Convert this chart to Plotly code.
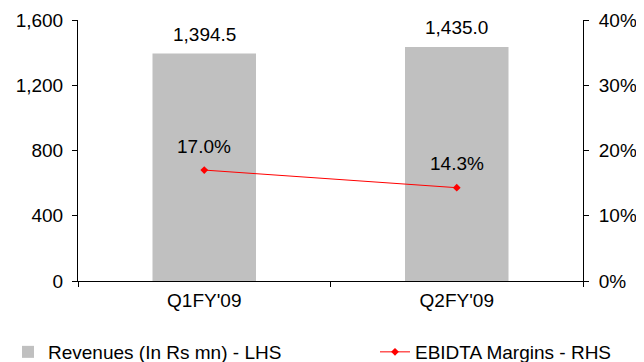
import plotly.graph_objects as go

categories = ["Q1FY'09", "Q2FY'09"]
revenues = [1394.5, 1435.0]
ebitda_margin = [17.0, 14.3]
left_ticks = [0, 400, 800, 1200, 1600]
right_ticks = [0, 10, 20, 30, 40]

FONT = "Liberation Sans, Arial, sans-serif"
FS = 19
# page body has an 8px margin; figure is sized to compensate
W, H = 636, 354

fig = go.Figure()
fig.add_trace(go.Bar(
    x=categories, y=revenues, name="Revenues (In Rs mn) - LHS",
    marker=dict(color="#c0c0c0", line=dict(width=0)), width=0.41, legend="legend",
))
fig.add_trace(go.Scatter(
    x=categories, y=ebitda_margin, name="EBIDTA Margins - RHS", yaxis="y2",
    mode="lines+markers", line=dict(color="#ff0000", width=1),
    marker=dict(color="#ff0000", size=6, symbol="diamond"), legend="legend2",
))

for c, v in zip(categories, revenues):
    fig.add_annotation(x=c, y=v, text=f"{v:,.1f}", showarrow=False,
                       yshift=19, font=dict(size=FS, color="#000", family=FONT))
for c, v in zip(categories, ebitda_margin):
    fig.add_annotation(x=c, y=v, yref="y2", text=f"{v:.1f}%", showarrow=False,
                       yshift=24, font=dict(size=FS, color="#000", family=FONT))

legend_common = dict(orientation="h", xref="container", yref="container",
                     yanchor="middle", xanchor="left", y=10 / H,
                     font=dict(size=FS, family=FONT, color="#000"),
                     bgcolor="rgba(0,0,0,0)", itemwidth=30)

tick_common = dict(ticklen=5, tickcolor="#000", showgrid=False, zeroline=False,
                   automargin=False)

fig.update_layout(
    width=W, height=H,
    margin=dict(l=70, r=61, t=12, b=81, autoexpand=False),
    paper_bgcolor="white", plot_bgcolor="white",
    font=dict(family=FONT, size=FS, color="#000"),
    xaxis=dict(showline=True, linecolor="#000", linewidth=1, ticks="outside",
               tickson="boundaries", ticklabelstandoff=2, **tick_common),
    yaxis=dict(range=[0, 1600], tickvals=left_ticks, ticktext=[f"{t:,}" for t in left_ticks],
               showline=True, linecolor="#000", linewidth=1, ticks="outside",
               ticklabelstandoff=5, **tick_common),
    yaxis2=dict(range=[0, 40], tickvals=right_ticks, ticktext=[f"{t}%" for t in right_ticks],
                overlaying="y", side="right", showline=True, linecolor="#000",
                linewidth=1, ticks="outside", ticklabelstandoff=6, **tick_common),
    # inside halves of the crossing tick marks
    yaxis3=dict(range=[0, 1600], tickvals=left_ticks, overlaying="y", side="left",
                ticks="inside", showticklabels=False, showline=False, **tick_common),
    yaxis4=dict(range=[0, 40], tickvals=right_ticks, overlaying="y", side="right",
                ticks="inside", showticklabels=False, showline=False, **tick_common),
    xaxis2=dict(range=[-0.5, 1.5], tickvals=[-0.5, 0.5, 1.5], overlaying="x", side="bottom",
                anchor="y", ticks="inside", showticklabels=False, showline=False, **tick_common),
    showlegend=True,
    legend=dict(x=0, **legend_common),
    legend2=dict(x=367 / W, **legend_common),
)

fig.write_html("out.html")
